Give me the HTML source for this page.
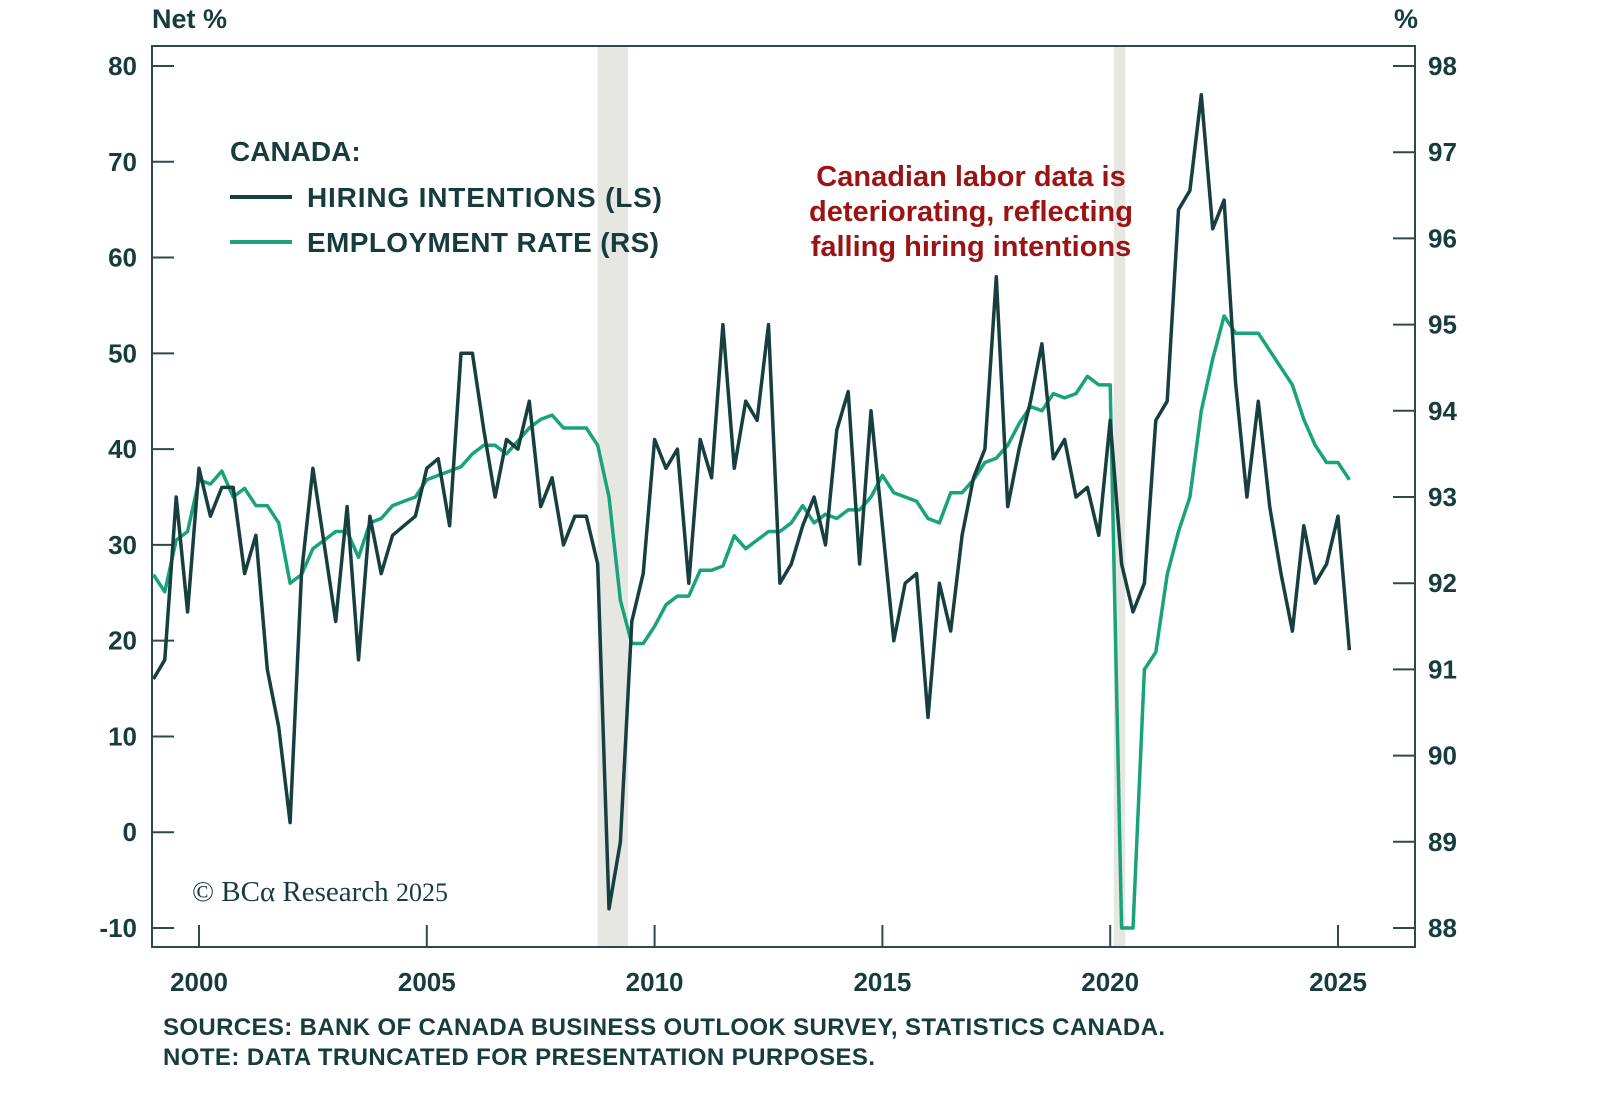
<!DOCTYPE html>
<html><head><meta charset="utf-8"><style>
html,body{margin:0;padding:0;background:#fff;}
svg{display:block;}
text{font-family:"Liberation Sans",sans-serif;fill:#173c3e;}
</style></head><body>
<svg id="chart" width="1600" height="1106" viewBox="0 0 1600 1106" xmlns="http://www.w3.org/2000/svg">
<g id="shade"></g>
<g id="grid"></g>
<g id="series"></g>
<text x="152" y="28" font-size="27" font-weight="bold">Net %</text>
<text x="1418" y="28" font-size="27" font-weight="bold" text-anchor="end">%</text>
<g>
<text x="230" y="161" font-size="28" font-weight="bold">CANADA:</text>
<line x1="230" y1="197" x2="292" y2="197" stroke="#173f40" stroke-width="4"/>
<text x="307" y="207" font-size="28" font-weight="bold" textLength="355">HIRING INTENTIONS (LS)</text>
<line x1="230" y1="242" x2="292" y2="242" stroke="#1aa37a" stroke-width="4"/>
<text x="307" y="252" font-size="28" font-weight="bold" textLength="352">EMPLOYMENT RATE (RS)</text>
</g>
<g>
<text x="971" y="186" font-size="29" font-weight="bold" text-anchor="middle" style="fill:#9b1313">Canadian labor data is</text>
<text x="971" y="221" font-size="29" font-weight="bold" text-anchor="middle" style="fill:#9b1313">deteriorating, reflecting</text>
<text x="971" y="256" font-size="29" font-weight="bold" text-anchor="middle" style="fill:#9b1313">falling hiring intentions</text>
</g>
<text x="192" y="901" font-size="29" style="font-family:'Liberation Serif',serif">© BCα Research <tspan font-size="26">2025</tspan></text>
<text x="163" y="1035" font-size="24" font-weight="bold" textLength="1002">SOURCES: BANK OF CANADA BUSINESS OUTLOOK SURVEY, STATISTICS CANADA.</text>
<text x="163" y="1065" font-size="24" font-weight="bold" textLength="712">NOTE: DATA TRUNCATED FOR PRESENTATION PURPOSES.</text>
</svg>
<script>
const hiring = [16,18,35,23,38,33,36,36,27,31,17,11,1,27,38,30,22,34,18,33,27,31,32,33,38,39,32,50,50,42,35,41,40,45,34,37,30,33,33,28,-8,-1,22,27,41,38,40,26,41,37,53,38,45,43,53,26,28,32,35,30,42,46,28,44,32,20,26,27,12,26,21,31,37,40,58,34,40,45,51,39,41,35,36,31,43,28,23,26,43,45,65,67,77,63,66,47,35,45,34,27,21,32,26,28,33,19];
const employment = [92.1,91.9,92.5,92.6,93.2,93.15,93.3,93.0,93.1,92.9,92.9,92.7,92.0,92.1,92.4,92.5,92.6,92.6,92.3,92.7,92.75,92.9,92.95,93.0,93.2,93.25,93.3,93.35,93.5,93.6,93.6,93.5,93.65,93.8,93.9,93.95,93.8,93.8,93.8,93.6,93.0,91.8,91.3,91.3,91.5,91.75,91.85,91.85,92.15,92.15,92.2,92.55,92.4,92.5,92.6,92.6,92.7,92.9,92.7,92.8,92.75,92.85,92.85,93.0,93.25,93.05,93.0,92.95,92.75,92.7,93.05,93.05,93.2,93.4,93.45,93.6,93.85,94.05,94.0,94.2,94.15,94.2,94.4,94.3,94.3,88.0,88.0,91.0,91.2,92.1,92.6,93.0,94.0,94.6,95.1,94.9,94.9,94.9,94.7,94.5,94.3,93.9,93.6,93.4,93.4,93.2];
const startYear = 1999.0;
const leftTicks = [80,70,60,50,40,30,20,10,0,-10];
const rightTicks = [98,97,96,95,94,93,92,91,90,89,88];
const yearTicks = [2000,2005,2010,2015,2020,2025];
const recessions = [[2008.75,2009.42],[2020.08,2020.33]];

const NS='http://www.w3.org/2000/svg';
const X0=152,X1=1415,Y0=46,Y1=947;
const xS=y=>199+(y-2000)*45.56;
const yL=v=>66+(80-v)*(862/90);
const yR=v=>66+(98-v)*86.2;
const dateOf=i=>startYear+i*0.25;
function mk(tag,attrs,parent){const e=document.createElementNS(NS,tag);for(const k in attrs)e.setAttribute(k,attrs[k]);parent.appendChild(e);return e;}
const shade=document.getElementById('shade'),grid=document.getElementById('grid'),series=document.getElementById('series');
recessions.forEach(r=>{const e=mk('rect',{x:xS(r[0]),y:Y0,width:xS(r[1])-xS(r[0]),height:Y1-Y0,fill:'#e6e6e2'},shade);

});
const ax='#2a4b4c';
const frame=mk('rect',{x:X0,y:Y0,width:X1-X0,height:Y1-Y0,fill:'none',stroke:ax,'stroke-width':2},grid);


leftTicks.forEach(v=>{const y=yL(v);
const t=mk('line',{x1:X0,x2:X0+22,y1:y,y2:y,stroke:ax,'stroke-width':2},grid);


const l=mk('text',{x:137,y:y+9,'font-size':26,'font-weight':'bold','text-anchor':'end'},grid);l.textContent=v;

});
rightTicks.forEach(v=>{const y=yR(v);
const t=mk('line',{x1:X1-22,x2:X1,y1:y,y2:y,stroke:ax,'stroke-width':2},grid);


const l=mk('text',{x:1428,y:y+9,'font-size':26,'font-weight':'bold'},grid);l.textContent=v;

});
yearTicks.forEach(v=>{const x=xS(v);
const t=mk('line',{x1:x,x2:x,y1:Y1-22,y2:Y1,stroke:ax,'stroke-width':2},grid);


const l=mk('text',{x:x,y:991,'font-size':26,'font-weight':'bold','text-anchor':'middle'},grid);l.textContent=v;

});
const pe=employment.map((v,i)=>xS(dateOf(i)).toFixed(1)+','+yR(v).toFixed(1)).join(' ');
const g=mk('polyline',{points:pe,fill:'none',stroke:'#1aa37a','stroke-width':3.5,'stroke-linejoin':'round'},series);


const ph=hiring.map((v,i)=>xS(dateOf(i)).toFixed(1)+','+yL(v).toFixed(1)).join(' ');
const h=mk('polyline',{points:ph,fill:'none',stroke:'#173f40','stroke-width':3.5,'stroke-linejoin':'round'},series);


</script>
</body></html>
